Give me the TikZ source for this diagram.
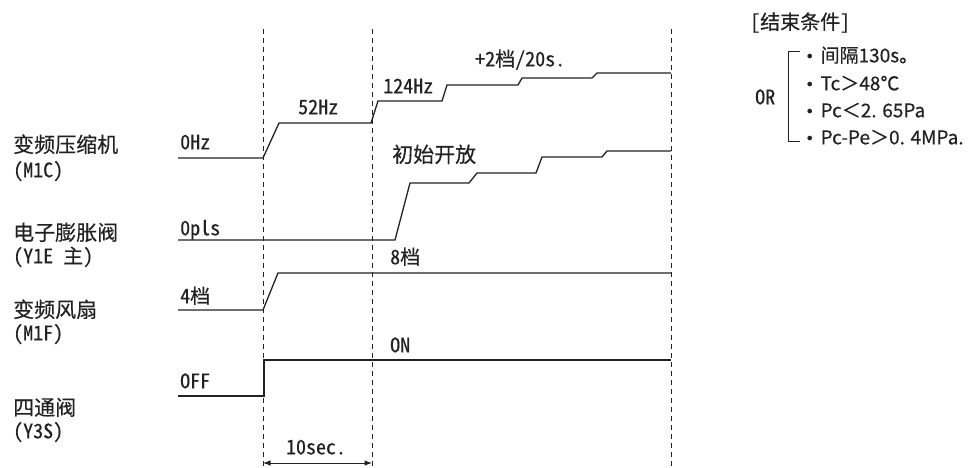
\documentclass[tikz,border=0pt]{standalone}
\usepackage{fontspec}
\setmainfont{Noto Sans CJK SC}[FakeBold=0.4]
\newfontfamily\latfont{Noto Sans CJK SC}[RawFeature=+hwid,FakeBold=0.4]
\newfontfamily\dotfont{DejaVu Sans}
\usepackage{tikz}
\usetikzlibrary{arrows.meta}
\definecolor{ink}{HTML}{222222}
\newcommand{\labfont}{\fontsize{21}{25}\selectfont}
\newcommand{\valfont}{\latfont\fontsize{20}{24}\selectfont}
\newcommand{\condfont}{\fontsize{19}{23}\selectfont}
\newcommand{\bul}{{\dotfont\fontsize{16}{20}\selectfont •}\hspace{6pt}}
\tikzset{
  lab/.style={anchor=west,inner sep=0pt,text height=14.6pt,text depth=0pt,font=\labfont,text=ink},
  val/.style={lab,font=\valfont},
  cond/.style={lab,font=\condfont},
  wave/.style={line width=1.3pt,ink,line join=miter},
  guide/.style={ink,line width=0.9pt,dash pattern=on 5pt off 4pt},
}

\begin{document}
\begin{tikzpicture}[x=1pt,y=-1pt,>=Latex]
  \useasboundingbox (0,0) rectangle (969,468);
  \foreach \x/\n in {263/ta,372/tb,671/tc}{
    \draw[guide] (\x,29)--(\x,468);
    \coordinate (\n) at (\x,463);
  }
  \draw[wave] (178,158)--(263,158)--(279,123)--(371,123)--(378,101)--(442,101)--(447,85)
    --(518,85)--(522,78)--(592,78)--(597,73)--(671,73);
  \draw[wave] (178,240)--(395,240)--(410,183)--(469,183)--(477,173)--(536,173)--(542,157)
    --(602,157)--(607,151)--(671,151);
  \draw[wave] (178,310)--(263,310)--(278,273)--(671,273);
  \draw[wave] (178,396)--(264,396)--(264,360)--(671,360);
  \node[lab] (m1c) at (13,145) {变频压缩机};
  \node[val] (m1cid) at (13,170) {(M1C)};
  \node[lab] (eev) at (13,233) {电子膨胀阀};
  \node[val] (eevid) at (13,256) {(Y1E 主)};
  \node[lab] (m1f) at (13,310) {变频风扇};
  \node[val] (m1fid) at (13,333) {(M1F)};
  \node[lab] (y3s) at (13,408) {四通阀};
  \node[val] (y3sid) at (13,431) {(Y3S)};
  \node[val] (hz0) at (180,142) {0Hz};
  \node[val] (hz52) at (298,107) {52Hz};
  \node[val] (hz124) at (383,86) {124Hz};
  \node[val] (plus2) at (475,59) {+2档/20s.};
  \node[lab] (open) at (392,155) {初始开放};
  \node[val] (pls0) at (180,228) {0pls};
  \node[val] (fan4) at (180,296) {4档};
  \node[val] (fan8) at (390,257) {8档};
  \node[val] (on) at (390,345) {ON};
  \node[val] (off) at (180,381) {OFF};
  \node[val,anchor=center] (tsec) at (316,447) {10sec.};
  \draw[<->,ink,line width=1pt] (ta) -- (tb);
  \node[val] (endtitle) at (750,22) {[结束条件]};
  \node[val] (orlab) at (755,97) {OR};
  \node[cond] (c1) at (805,55) {\bul 间隔130s。};
  \node[cond] (c2) at (805,83) {\bul Tc＞48℃};
  \node[cond] (c3) at (805,110) {\bul Pc＜2. 65Pa};
  \node[cond] (c4) at (805,137) {\bul Pc-Pe＞0. 4MPa.};
  \draw[ink,line width=1pt] (800,52)--(788,52)--(788,142)--(800,142);
\end{tikzpicture}
\end{document}
